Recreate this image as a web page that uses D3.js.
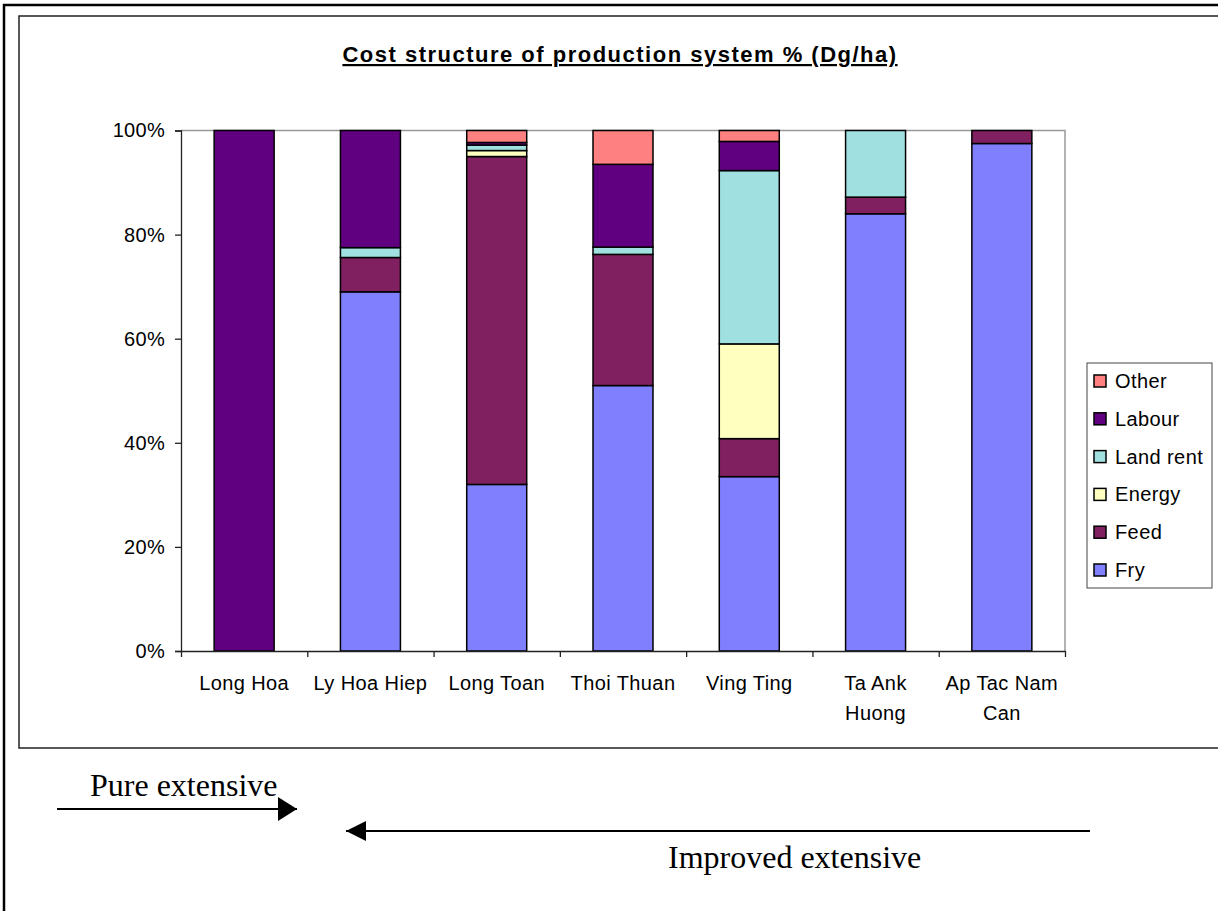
<html>
<head>
  <title>Cost structure of production system</title>
  <script src="https://d3js.org/d3.v7.min.js"></script>
  <style>
    body { margin: 0; padding: 0; background: #fff; }
    svg text { font-family: "Liberation Sans", Arial, sans-serif; }
    .serif { font-family: "Liberation Serif", "Times New Roman", serif !important; }
    .axis path, .axis line { stroke: #222; stroke-width: 1.3px; }
    .axis text { font-size: 20px; fill: #000; letter-spacing: 0.3px; }
  </style>
</head>
<body>
  <svg id="chart" width="1218" height="911"></svg>

  <script>

    // ---- Data (percent of total cost) ----
    const categories = ["Long Hoa", "Ly Hoa Hiep", "Long Toan", "Thoi Thuan", "Ving Ting", "Ta Ank Huong", "Ap Tac Nam Can"];
    const tickLabels = [["Long Hoa"], ["Ly Hoa Hiep"], ["Long Toan"], ["Thoi Thuan"], ["Ving Ting"], ["Ta Ank", "Huong"], ["Ap Tac Nam", "Can"]];
    const seriesNames = ["Fry", "Feed", "Energy", "Land rent", "Labour", "Other"];

    const fry      = [0,   69,   32,   51,   33.5, 84,   97.5];
    const feed     = [0,   6.6,  63,   25.2, 7.3,  3.2,  2.5];
    const energy   = [0,   0,    1.15, 0,    18.2, 0,    0];
    const landRent = [0,   1.9,  1.05, 1.4,  33.3, 12.8, 0];
    const labour   = [100, 22.5, 0.5,  15.9, 5.6,  0,    0];
    const other    = [0,   0,    2.3,  6.5,  2.1,  0,    0];

    const yTicks = [0, 20, 40, 60, 80, 100];

    const colors = {
      "Fry": "#8080ff",
      "Feed": "#802060",
      "Energy": "#ffffc0",
      "Land rent": "#a0e0e0",
      "Labour": "#600080",
      "Other": "#ff8080"
    };

    // build rows for d3.stack
    const seriesValues = [fry, feed, energy, landRent, labour, other];
    const rows = categories.map((c, i) => {
      let r = { category: c };
      seriesNames.forEach((s, j) => r[s] = seriesValues[j][i]);
      return r;
    });

    const svg = d3.select("svg#chart");

    // Page frame + chart border
    svg.append("path")
       .attr("d", "M4,911 V5 H1218")
       .attr("fill", "none")
       .attr("stroke", "#000")
       .attr("stroke-width", 2.5);
    svg.append("rect")
       .attr("x", 19).attr("y", 16)
       .attr("width", 1215).attr("height", 732)
       .attr("fill", "none")
       .attr("stroke", "#222")
       .attr("stroke-width", 1.5);

    // Plot area
    const plot = { left: 181, right: 1065, top: 130.5, bottom: 651 };

    const x = d3.scaleBand()
                .domain(categories)
                .range([plot.left, plot.right])
                .paddingInner(0.525)
                .paddingOuter(0.2625);
    const y = d3.scaleLinear().domain([0, 100]).range([plot.bottom, plot.top]);

    // grey border of the plot area (top and right)
    svg.append("path")
       .attr("d", `M${plot.left},${plot.top} H${plot.right} V${plot.bottom}`)
       .attr("fill", "none")
       .attr("stroke", "#999")
       .attr("stroke-width", 1.5);

    // Title
    svg.append("text")
       .attr("x", 620).attr("y", 62)
       .attr("text-anchor", "middle")
       .style("font-size", "22px")
       .style("font-weight", "bold")
       .style("letter-spacing", "1.5px")
       .style("text-decoration", "underline")
       .text("Cost structure of production system % (Dg/ha)");

    // Stacked bars
    const stacked = d3.stack().keys(seriesNames)(rows);

    svg.append("g").selectAll("g.series")
       .data(stacked)
       .join("g")
       .attr("class", "series")
       .attr("fill", d => colors[d.key])
       .selectAll("rect")
       .data(d => d.filter(s => s[1] - s[0] > 0))
       .join("rect")
       .attr("x", d => x(d.data.category))
       .attr("width", x.bandwidth())
       .attr("y", d => y(d[1]))
       .attr("height", d => y(d[0]) - y(d[1]))
       .attr("stroke", "#000")
       .attr("stroke-width", 1.5);

    // Y axis
    svg.append("g")
       .attr("class", "axis")
       .attr("transform", `translate(${plot.left},0)`)
       .call(d3.axisLeft(y).tickValues(yTicks).tickSize(6).tickPadding(10).tickFormat(d => d + "%"));

    // X axis: ticks sit on the band boundaries
    const xEdges = d3.scaleLinear().domain([0, categories.length]).range([plot.left, plot.right]);
    svg.append("g")
       .attr("class", "axis")
       .attr("transform", `translate(0,${plot.bottom})`)
       .call(d3.axisBottom(xEdges).tickValues(d3.range(categories.length + 1)).tickSize(6).tickSizeOuter(0).tickFormat(""));

    // Category labels (some wrap on two lines)
    const catLabels = svg.append("g").selectAll("text")
       .data(categories)
       .join("text")
       .attr("x", d => x(d) + x.bandwidth() / 2)
       .attr("y", 690)
       .attr("text-anchor", "middle")
       .style("font-size", "20px")
       .style("letter-spacing", "0.4px");
    catLabels.each(function(d, i) {
      d3.select(this).selectAll("tspan")
        .data(tickLabels[i])
        .join("tspan")
        .attr("x", x(d) + x.bandwidth() / 2)
        .attr("dy", (t, k) => k === 0 ? 0 : 30)
        .text(t => t);
    });

    // Legend (reverse order, Other on top)
    const legend = svg.append("g");
    legend.append("rect")
          .attr("x", 1087).attr("y", 363)
          .attr("width", 125).attr("height", 225)
          .attr("fill", "#fff")
          .attr("stroke", "#444")
          .attr("stroke-width", 1);
    const legendItems = legend.selectAll("g.item")
          .data(seriesNames.slice().reverse())
          .join("g")
          .attr("class", "item")
          .attr("transform", (d, i) => `translate(1094,${381 + i * 37.8})`);
    legendItems.append("rect")
          .attr("x", 0).attr("y", -6)
          .attr("width", 12).attr("height", 12)
          .attr("fill", d => colors[d])
          .attr("stroke", "#000")
          .attr("stroke-width", 1.5);
    legendItems.append("text")
          .attr("x", 21).attr("y", 7)
          .style("font-size", "20px")
          .style("letter-spacing", "0.4px")
          .text(d => d);

    // Arrows below the chart
    svg.append("line")
       .attr("x1", 57).attr("y1", 809).attr("x2", 297).attr("y2", 809)
       .attr("stroke", "#000").attr("stroke-width", 2);
    svg.append("path")
       .attr("d", "M297,809 L278,797 L278,821 Z")
       .attr("fill", "#000");

    svg.append("line")
       .attr("x1", 1090).attr("y1", 831).attr("x2", 346).attr("y2", 831)
       .attr("stroke", "#000").attr("stroke-width", 2);
    svg.append("path")
       .attr("d", "M346,831 L366,821 L366,841 Z")
       .attr("fill", "#000");

    svg.append("text")
       .attr("class", "serif")
       .attr("x", 90).attr("y", 796)
       .style("font-size", "32px")
       .text("Pure extensive");
    svg.append("text")
       .attr("class", "serif")
       .attr("x", 668).attr("y", 868)
       .style("font-size", "32px")
       .text("Improved extensive");

  </script>
</body>
</html>
